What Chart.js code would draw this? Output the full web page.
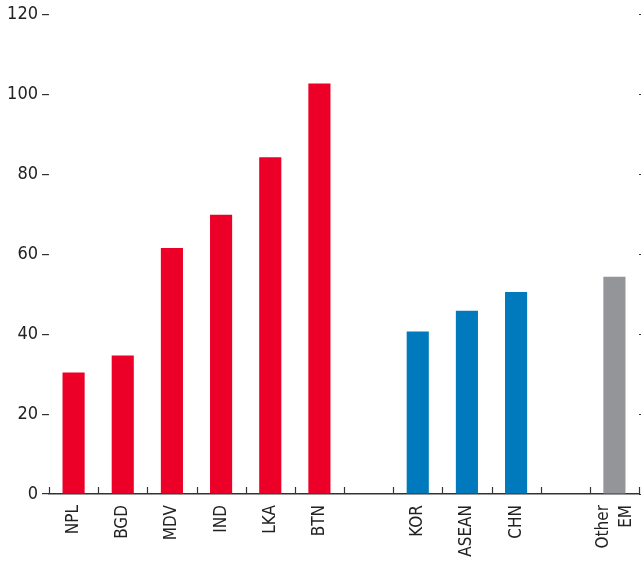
<!DOCTYPE html>
<html>
<head>
<meta charset="utf-8">
<script src="https://cdn.jsdelivr.net/npm/chart.js@4"></script>
<style>
  html, body { margin: 0; padding: 0; background: #fff; }
  #wrap { width: 641px; height: 562px; }
</style>
</head>
<body>
<div id="wrap"><canvas id="myChart"></canvas></div>
<script>
  const categories = ['NPL', 'BGD', 'MDV', 'IND', 'LKA', 'BTN', '', 'KOR', 'ASEAN', 'CHN', '', ['Other', 'EM']]
  const values = [30.4, 34.7, 61.6, 69.9, 84.3, 102.8, null, 40.7, 45.9, 50.6, null, 54.4]
  const groups = ['s', 's', 's', 's', 's', 's', '', 'e', 'e', 'e', '', 'o']
  const yTicks = [0, 20, 40, 60, 80, 100, 120]

  const groupColors = { s: 'rgb(237, 0, 39)', e: 'rgb(0, 122, 188)', o: 'rgb(147, 149, 152)', '': 'rgba(0,0,0,0)' }
  const family = '"DejaVu Sans Condensed", "Liberation Sans Narrow", sans-serif'

  // small inward tick marks between categories on the x axis
  const innerTicks = {
    id: 'innerTicks',
    beforeDraw(chart) {
      // center two-line rotated labels on their bar
      const items = chart.scales.x.getLabelItems()
      items.forEach(it => {
        if (Array.isArray(it.label) && it.label.length > 1) {
          it.options.translation[0] -= 11
        }
      })
    },
    afterDraw(chart) {
      const x = chart.scales.x
      const c = chart.ctx
      const n = categories.length
      c.save()
      c.strokeStyle = '#333'
      c.lineWidth = 1.2
      for (let i = 0; i <= n; i++) {
        const px = Math.round(x.getPixelForValue(i - 0.5)) + 0.5
        c.beginPath()
        c.moveTo(px, x.top)
        c.lineTo(px, x.top - 7)
        c.stroke()
      }
      c.restore()
    }
  }

  new Chart(document.getElementById('myChart'), {
    type: 'bar',
    data: {
      labels: categories,
      datasets: [{
        data: values,
        backgroundColor: groups.map(g => groupColors[g]),
        barPercentage: 0.45,
        categoryPercentage: 1
      }]
    },
    options: {
      responsive: true,
      maintainAspectRatio: false,
      animation: false,
      layout: { padding: { top: 1, left: 0, right: 0, bottom: 0 } },
      plugins: { legend: { display: false }, tooltip: { enabled: false } },
      scales: {
        x: {
          grid: { display: false },
          border: { display: true, color: '#333', width: 1.5 },
          ticks: { color: '#222', font: { family: family, size: 17, lineHeight: 1.35 }, minRotation: 90, maxRotation: 90, padding: 3, autoSkip: false },
          afterFit(scale) {
            scale.height = 68
            scale.paddingLeft = 0
            scale.paddingRight = 0
          }
        },
        y: {
          min: 0,
          max: 120,
          afterBuildTicks(scale) { scale.ticks = yTicks.map(v => ({ value: v })) },
          grid: { drawOnChartArea: false, tickLength: 7, color: '#333', lineWidth: 1.2 },
          border: { display: false },
          ticks: { color: '#222', font: { family: family, size: 18 }, padding: 4 },
          afterFit(scale) { scale.width = 49 }
        },
        y2: {
          position: 'right',
          min: 0,
          max: 120,
          afterBuildTicks(scale) { scale.ticks = yTicks.map(v => ({ value: v })) },
          grid: { drawOnChartArea: false, tickLength: 2, color: '#333' },
          border: { display: false },
          ticks: { display: false }
        }
      }
    },
    plugins: [innerTicks]
  })
</script>
</body>
</html>
